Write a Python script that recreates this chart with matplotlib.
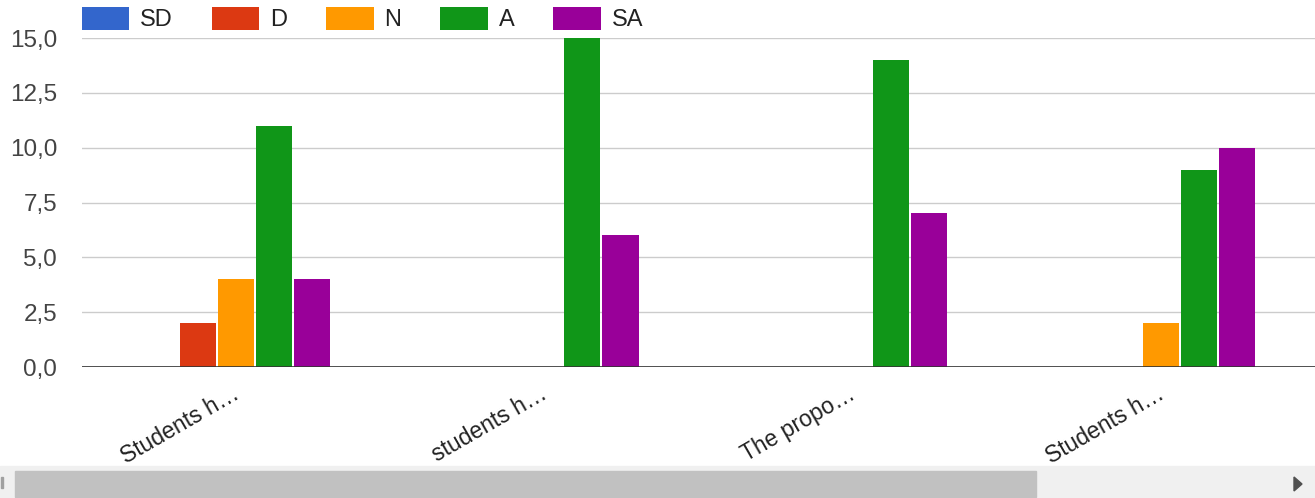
import numpy as np
import matplotlib.pyplot as plt
from matplotlib.patches import Rectangle, Polygon

plt.rcParams['font.family'] = ['Liberation Sans', 'DejaVu Sans']

# Dados
questions = ['Students h…', 'students h…', 'The propo…', 'Students h…']
series = ['SD', 'D', 'N', 'A', 'SA']
sd = [0, 0, 0, 0]
d = [2, 0, 0, 0]
n = [4, 0, 0, 2]
a = [11, 15, 14, 9]
sa = [4, 6, 7, 10]
yticks = [0, 2.5, 5, 7.5, 10, 12.5, 15]

colors = ['#3366cc', '#dc3912', '#ff9900', '#109618', '#990099']
values = [sd, d, n, a, sa]

W, H = 1315, 498
fig = plt.figure(figsize=(W / 100, H / 100), dpi=100)
ax = fig.add_axes([82 / W, 131 / H, 1 - 82 / W, 329 / H])

x = np.arange(len(questions))
step = 0.1235
width = 0.117
for i, (name, vals) in enumerate(zip(series, values)):
    ax.bar(x + (i - 2) * step, vals, width, color=colors[i], label=name, zorder=3)

ax.set_xlim(-0.5, 3.5)
ax.set_ylim(0, 15)
ax.set_yticks(yticks)
ax.set_yticklabels([f'{v:.1f}'.replace('.', ',') for v in yticks], fontsize=17.5, color='#444444')
ax.tick_params(axis='y', length=0, pad=18)
ax.grid(axis='y', color='#cccccc', linewidth=1, zorder=0)
ax.axhline(0, color='#333333', linewidth=1.2, zorder=4)
for s in ax.spines.values():
    s.set_visible(False)

ax.set_xticks(x - 0.015)
ax.set_xticklabels(questions, rotation=30, ha='right', rotation_mode='anchor',
                   fontsize=16.5, color='#222222')
ax.tick_params(axis='x', length=0, pad=11)

fig.legend(loc='center left', bbox_to_anchor=(82 / W, 1 - 19 / H), ncol=5,
           frameon=False, fontsize=17, handlelength=2.0, handleheight=1.15,
           handletextpad=0.47, columnspacing=1.65, borderaxespad=0, borderpad=0,
           labelcolor='#222222')

# barra de rolagem
fig.patches.append(Rectangle((0, 0), 1, 32 / H, transform=fig.transFigure,
                             color='#f0f0f0', zorder=0))
fig.patches.append(Rectangle((15 / W, 1 / H), 1021 / W, 26 / H,
                             transform=fig.transFigure, color='#c1c1c1', zorder=1))
fig.patches.append(Polygon([(1294 / W, (H - 477) / H), (1294 / W, (H - 491) / H),
                            (1302 / W, (H - 484) / H)], closed=True,
                           transform=fig.transFigure, color='#505050', zorder=2))
fig.patches.append(Rectangle((1 / W, 10 / H), 1.5 / W, 11 / H,
                             transform=fig.transFigure, color='#a0a0a0', zorder=2))

plt.savefig('out.png', dpi=100)
